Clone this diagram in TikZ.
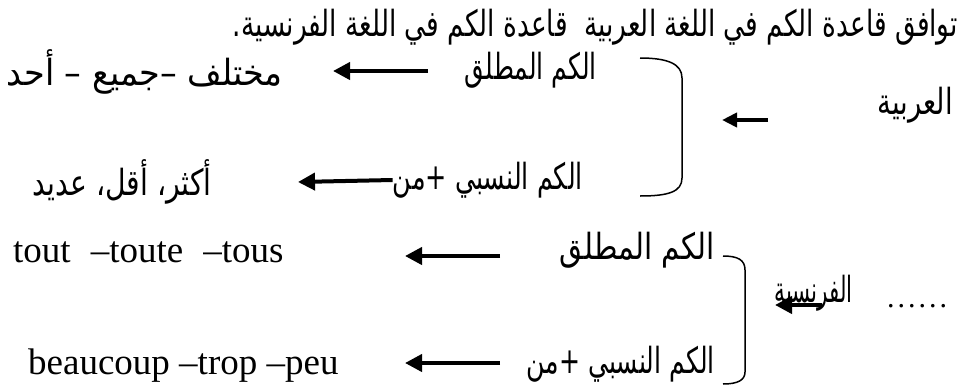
\documentclass[tikz,border=0pt]{standalone}
\usepackage{graphicx}
\usepackage{fontspec}
\setmainfont{Liberation Serif}
\newfontfamily\arabicfont[Script=Arabic]{DejaVu Sans}
\TeXXeTstate=1
\usetikzlibrary{arrows.meta}
\newcommand{\artxt}[2]{\resizebox{#1}{\height}{\arabicfont #2}}
\begin{document}
\begin{tikzpicture}[x=1pt,y=-1pt,
  artext/.style={inner sep=0pt, anchor=east, font=\arabicfont\fontsize{36}{40}\selectfont},
  frtext/.style={inner sep=0pt, anchor=base west, font=\fontsize{37}{42}\selectfont},
  thickarrow/.style={line width=4pt, -{Triangle[length=17pt,width=17pt]}},
  smallarrow/.style={line width=4pt, -{Triangle[length=15pt,width=14pt]}},
  bracketline/.style={line width=1.5pt}]
\useasboundingbox (0,0) rectangle (961,386);

% title
\node[artext] (title) at (958,27) {\artxt{725pt}{\beginR توافق قاعدة الكم في اللغة العربية\ \ قاعدة الكم في اللغة الفرنسية.\endR}};

% Arabic block
\node[artext] (a1) at (283,72) {\artxt{276pt}{\beginR مختلف –جميع – أحد\endR}};
\node[artext] (a2) at (597,70) {\artxt{132pt}{\beginR الكم المطلق\endR}};
\node[artext] (arab) at (953,105) {\artxt{75pt}{\beginR العربية\endR}};
\node[artext] (b1) at (212,182) {\artxt{179pt}{\beginR أكثر، أقل، عديد\endR}};
\node[artext] (b2) at (583,180) {\artxt{190pt}{\beginR الكم النسبي +من\endR}};

\coordinate (a1h) at (333,71);
\coordinate (a2t) at (428,71);
\draw[thickarrow] (a2t) -- (a1h);
\coordinate (b1h) at (298,182);
\draw[thickarrow] (b2.west) -- (b1h);

\draw[bracketline] (640,58) .. controls (668,58) and (682,64) .. (682,78) -- (682,178) .. controls (682,192) and (668,196) .. (640,196);
\coordinate (arh) at (722,120);
\coordinate (art) at (768,120);
\draw[smallarrow] (art) -- (arh);

% French block
\node[frtext] (c1) at (13,262) {tout\hspace{20pt}–toute\hspace{20pt}–tous};
\node[artext] (c2) at (715,250) {\artxt{155pt}{\beginR الكم المطلق\endR}};
\coordinate (c1h) at (405,256);
\coordinate (c2t) at (500,256);
\draw[thickarrow] (c2t) -- (c1h);

\node[frtext] (d1) at (28,374) {beaucoup –trop –peu};
\node[artext] (d2) at (715,364) {\artxt{188pt}{\beginR الكم النسبي +من\endR}};
\coordinate (d1h) at (405,363);
\coordinate (d2t) at (500,363);
\draw[thickarrow] (d2t) -- (d1h);

\draw[bracketline] (723,256) .. controls (738,256) and (745,260) .. (745,270) -- (745,372) .. controls (745,380) and (738,384) .. (723,384);

\node[artext] (fr) at (853,293) {\artxt{78pt}{\beginR الفرنسية\endR}};
\node[inner sep=0pt, anchor=base west, font=\fontsize{30}{34}\selectfont] (dots) at (887,307) {.\kern3pt.\kern3pt.\kern3pt.\kern3pt.\kern3pt.};
\coordinate (frh) at (775,305);
\coordinate (frt) at (822,305);
\draw[thickarrow] (frt) -- (frh);
\end{tikzpicture}
\end{document}
